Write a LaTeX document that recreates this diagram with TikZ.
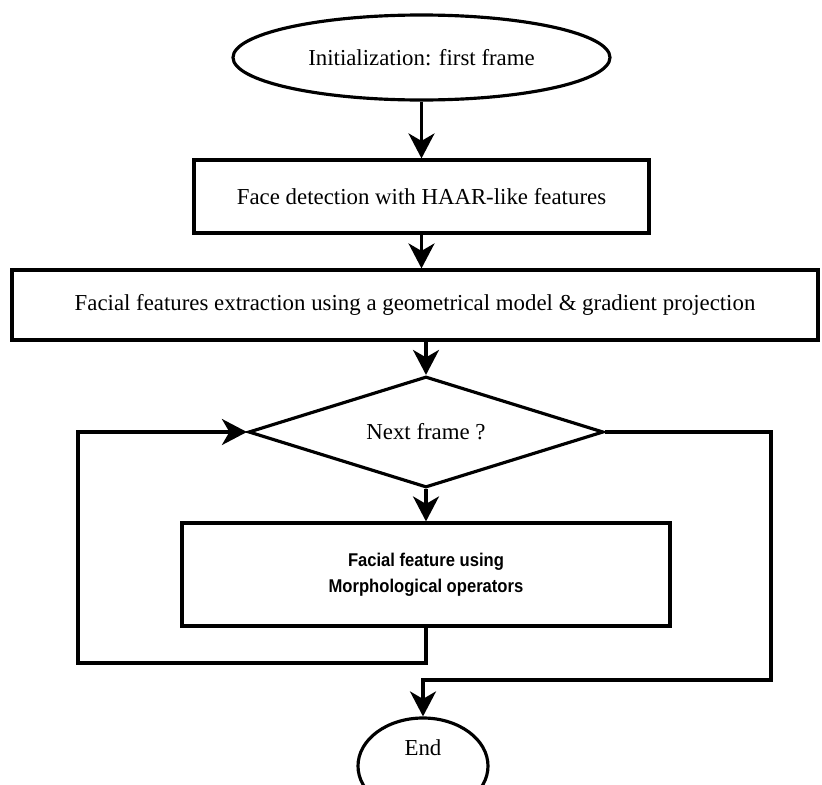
\documentclass[tikz,border=0pt]{standalone}
\usepackage{fontspec}
\setmainfont{Liberation Serif}
\newfontfamily\narrowsans[FakeStretch=0.9]{Liberation Sans}
\usetikzlibrary{shapes.geometric,arrows.meta}

\begin{document}
\begin{tikzpicture}[line width=1.8pt, font=\fontsize{13}{15.5}\selectfont,
    box/.style={draw, rectangle, inner sep=0pt},
    arr/.style={-{Stealth[length=0.5cm,width=0.52cm,inset=0.15cm]}}]
    \useasboundingbox (0,0) rectangle (16.44,-15.7);
    \node [draw, ellipse, minimum width=7.54cm, minimum height=1.7cm, inner sep=0pt] at (8.43,-1.15) (a) {Initialization: first frame};
    \node [box, minimum width=9.1cm, minimum height=1.46cm] at (8.43,-3.93) (b) {Face detection with HAAR-like features};
    \node [box, minimum width=16.12cm, minimum height=1.4cm] at (8.3,-6.1) (c) {Facial features extraction using a geometrical model \& gradient projection};
    \node [draw, diamond, shape aspect=3.2, minimum width=7.1cm, minimum height=2.22cm, inner sep=0pt] at (8.52,-8.64) (d) {Next frame ?};
    \node [box, minimum width=9.76cm, minimum height=2.06cm, align=center, font=\narrowsans\bfseries\fontsize{10.5}{14.8}\selectfont] at (8.52,-11.49) (e) {Facial feature using\\ Morphological operators};
    \node [draw, ellipse, minimum width=2.6cm, minimum height=1.92cm, inner sep=0pt, text depth=0.72cm] at (8.46,-15.32) (f) {End};
    \coordinate (g) at (1.56,-13.26);
    \coordinate (h) at (15.42,-13.6);
    \path [draw, arr] (a) -- (b);
    \path [draw, arr] (b.south) -- (b.south |- c.north);
    \path [draw, arr] (c.south -| d.north) -- (d.north);
    \path [draw, arr] (d) -- (e);
    \path [draw, arr] (e.south) |- (g) |- (d.west);
    \path [draw, arr] (d.east) -| (h) -| (f.north);
\end{tikzpicture}
\end{document}
